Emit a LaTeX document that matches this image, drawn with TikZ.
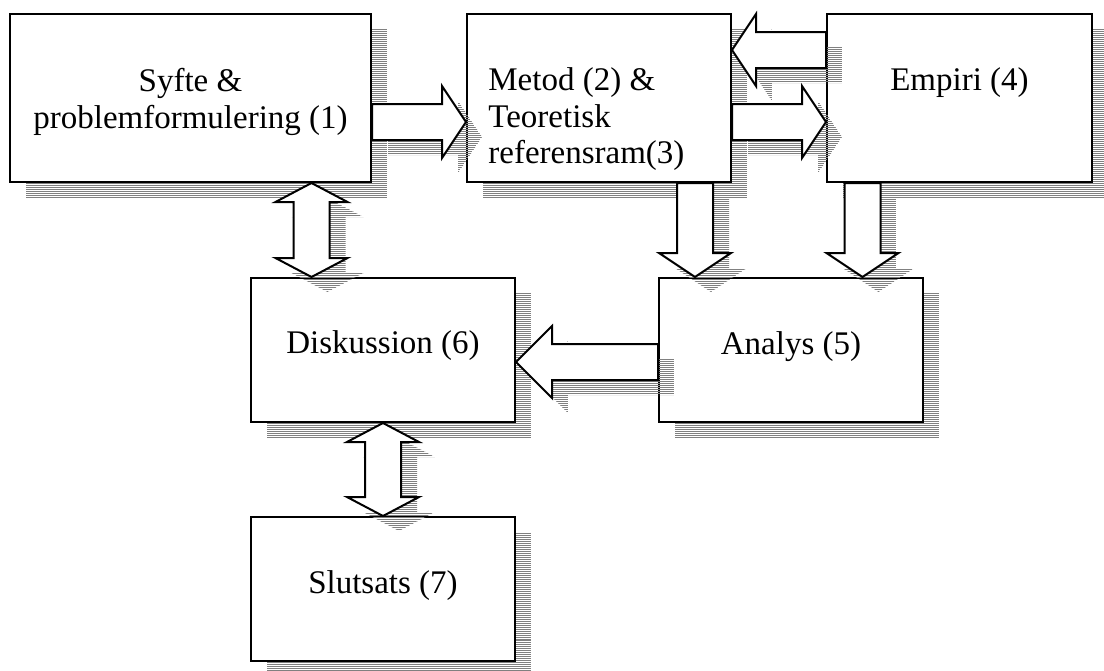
\documentclass[tikz,border=0pt]{standalone}
\usepackage{fontspec}
\setmainfont{Liberation Serif}
\usetikzlibrary{calc,shadows,patterns.meta}
\tikzset{
  hatchshadow/.style={general shadow={shadow xshift=8pt, shadow yshift=-7.5pt,
      pattern={Lines[angle=0,distance=1pt,line width=0.5pt]}, pattern color=gray}},
  box/.style={draw, fill=white, line width=1pt, rectangle, inner sep=0pt, hatchshadow},
  blockarrowstyle/.style={draw, fill=white, line width=1pt, line join=miter, hatchshadow},
  txt/.style={inner sep=0pt, anchor=base, font=\fontsize{16.5}{19}\selectfont},
}
\newcommand\blockarrow[3]{%
  \coordinate (ba-h) at ($(#2)!#3!(#1)$);
  \draw[blockarrowstyle] ($(#1)!9pt!90:(#2)$) -- ($(ba-h)!9pt!-90:(#1)$) -- ($(ba-h)!18pt!-90:(#1)$) -- (#2)
     -- ($(ba-h)!18pt!90:(#1)$) -- ($(ba-h)!9pt!90:(#1)$) -- ($(#1)!9pt!-90:(#2)$) -- cycle;
}
\newcommand\dblarrow[3]{%
  \coordinate (da-a) at ($(#1)!#3!(#2)$);
  \coordinate (da-b) at ($(#2)!#3!(#1)$);
  \draw[blockarrowstyle] (#1) -- ($(da-a)!18pt!90:(#2)$) -- ($(da-a)!9pt!90:(#2)$) -- ($(da-b)!9pt!-90:(#1)$)
     -- ($(da-b)!18pt!-90:(#1)$) -- (#2) -- ($(da-b)!18pt!90:(#1)$) -- ($(da-b)!9pt!90:(#1)$)
     -- ($(da-a)!9pt!-90:(#2)$) -- ($(da-a)!18pt!-90:(#2)$) -- cycle;
}
\begin{document}
\begin{tikzpicture}[x=0.5pt,y=-0.5pt]
\useasboundingbox (0,0) rectangle (1104,670);
% boxes
\node[box, minimum width=180.5pt, minimum height=84pt] (b1) at (190.5,98) {};
\node[box, minimum width=132pt, minimum height=84pt] (b2) at (599,98) {};
\node[box, minimum width=132.5pt, minimum height=84pt] (b4) at (959.5,98) {};
\node[box, minimum width=132pt, minimum height=72pt] (b6) at (383,350) {};
\node[box, minimum width=132pt, minimum height=72pt] (b5) at (791,350) {};
\node[box, minimum width=132pt, minimum height=72pt] (b7) at (383,589) {};
% texts
\node[txt] (t1a) at (190.5,91) {Syfte \&};
\node[txt] (t1b) at (190.5,128) {problemformulering (1)};
\node[txt, anchor=base west] (t2a) at (488,90) {Metod (2) \&};
\node[txt, anchor=base west] (t2b) at (488,127) {Teoretisk};
\node[txt, anchor=base west] (t2c) at (488,163) {referensram(3)};
\node[txt] (t4) at (959.5,90) {Empiri (4)};
\node[txt] (t6) at (383,353) {Diskussion (6)};
\node[txt] (t5) at (791,354) {Analys (5)};
\node[txt] (t7) at (383,593) {Slutsats (7)};
% connector end points
\coordinate (a12s) at ([yshift=-12pt]b1.east);
\coordinate (a12e) at ([yshift=-12pt]b2.west);
\coordinate (a42s) at ([yshift=24pt]b4.west);
\coordinate (a42e) at ([yshift=24pt]b2.east);
\coordinate (a24s) at ([yshift=-12pt]b2.east);
\coordinate (a24e) at ([yshift=-12pt]b4.west);
\coordinate (a25s) at ([xshift=48pt]b2.south);
\coordinate (a25e) at ([xshift=-48pt]b5.north);
\coordinate (a45s) at ([xshift=-48.5pt]b4.south);
\coordinate (a45e) at ([xshift=35.75pt]b5.north);
\coordinate (a56s) at ([yshift=-6pt]b5.west);
\coordinate (a56e) at ([yshift=-6pt]b6.east);
\coordinate (a16s) at ([xshift=60.5pt]b1.south);
\coordinate (a16e) at ([xshift=-35.75pt]b6.north);
% connectors
\blockarrow{a12s}{a12e}{12pt}
\blockarrow{a42s}{a42e}{12pt}
\blockarrow{a24s}{a24e}{12pt}
\blockarrow{a25s}{a25e}{12pt}
\blockarrow{a45s}{a45e}{12pt}
\blockarrow{a56s}{a56e}{18pt}
\dblarrow{a16s}{a16e}{9.5pt}
\dblarrow{b6.south}{b7.north}{9.5pt}
\end{tikzpicture}
\end{document}
